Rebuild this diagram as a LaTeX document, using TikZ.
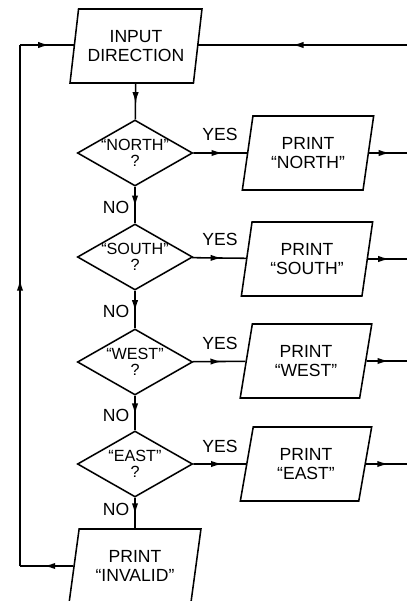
\documentclass[tikz,border=0pt]{standalone}
\usepackage{fontspec}
\setmainfont{Liberation Sans}
\usetikzlibrary{shapes.geometric,arrows.meta,decorations.markings}

\tikzset{
  io/.style={trapezium, trapezium left angle=78, trapezium right angle=102,
    trapezium stretches=true, draw, line width=1.1pt, minimum width=3.3cm, minimum height=1.85cm,
    inner sep=1pt, align=center, font=\fontsize{12.5}{14}\selectfont},
  test/.style={diamond, draw, line width=1.1pt, minimum width=2.88cm, minimum height=1.65cm,
    inner sep=-8pt, align=center, font=\fontsize{11.5}{11.5}\selectfont},
  answer/.style={inner sep=1pt, font=\fontsize{12.5}{13}\selectfont},
  flow/.style={line width=1.1pt, postaction={decorate}, decoration={markings,
    mark=at position 0.55 with {\arrow{Latex[length=8pt,width=4.5pt]}}}}
}

\begin{document}
\begin{tikzpicture}[x=0.025cm, y=-0.025cm]
    \useasboundingbox (0,0) rectangle (407,601);

    \node[io] (in) at (136,46) {INPUT\\DIRECTION};

    \node[test] (n) at (135,153) {“NORTH”\\?};
    \node[test] (s) at (135,257) {“SOUTH”\\?};
    \node[test] (w) at (135,362) {“WEST”\\?};
    \node[test] (e) at (135,464) {“EAST”\\?};

    \node[io] (pn) at (308,153) {PRINT\\“NORTH”};
    \node[io] (ps) at (307,259) {PRINT\\“SOUTH”};
    \node[io] (pw) at (306,361) {PRINT\\“WEST”};
    \node[io] (pe) at (306,464) {PRINT\\“EAST”};
    \node[io] (pi) at (135,566) {PRINT\\“INVALID”};

    % yes / no labels
    \node[answer] (yn) at (220,134) {YES};
    \node[answer] (ys) at (220,239) {YES};
    \node[answer] (yw) at (220,343) {YES};
    \node[answer] (ye) at (220,446) {YES};
    \node[answer,anchor=east] (nn) at (131,207) {NO};
    \node[answer,anchor=east] (ns) at (131,311) {NO};
    \node[answer,anchor=east] (nw) at (131,415) {NO};
    \node[answer,anchor=east] (ne) at (131,509) {NO};

    % loop ends
    \coordinate (top) at (407,45);
    \coordinate (rn) at (407,153); \coordinate (rs) at (407,259);
    \coordinate (rw) at (407,361); \coordinate (re) at (407,464);
    \coordinate (lb) at (20,566); \coordinate (lt) at (20,45);

    \draw[flow] (in) -- (n); \draw[flow] (n) -- (s); \draw[flow] (s) -- (w);
    \draw[flow] (w) -- (e); \draw[flow] (e) -- (pi);
    \draw[flow] (n) -- (pn); \draw[flow] (s) -- (ps); \draw[flow] (w) -- (pw); \draw[flow] (e) -- (pe);
    \draw[flow] (pn) -- (rn); \draw[flow] (ps) -- (rs); \draw[flow] (pw) -- (rw); \draw[flow] (pe) -- (re);
    \draw[flow] (top) -- (in.east |- top);
    \draw[flow] (pi) -- (lb); \draw[flow] (lb) -- (lt); \draw[flow] (lt) -- (in.west |- lt);
\end{tikzpicture}
\end{document}
